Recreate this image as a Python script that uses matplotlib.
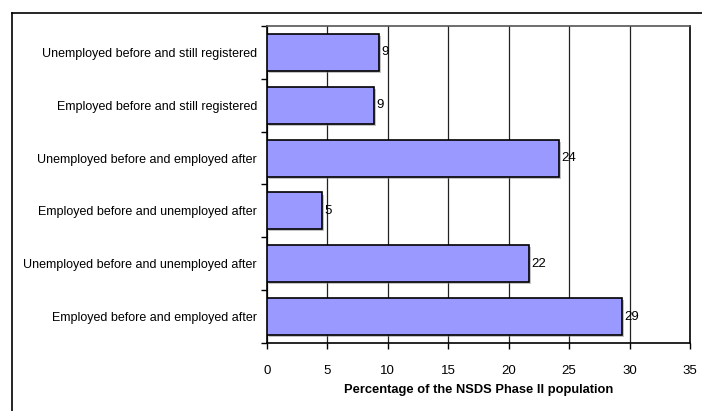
import matplotlib
matplotlib.use("Agg")
import matplotlib.pyplot as plt
import matplotlib.patheffects as pe
from matplotlib.lines import Line2D
import numpy as np

categories = [
    "Unemployed before and still registered",
    "Employed before and still registered",
    "Unemployed before and employed after",
    "Employed before and unemployed after",
    "Unemployed before and unemployed after",
    "Employed before and employed after",
]
values = [9.3, 8.9, 24.2, 4.6, 21.7, 29.4]
xticks = [0, 5, 10, 15, 20, 25, 30, 35]
xlabel = "Percentage of the NSDS Phase II population"

FONT = ["Liberation Sans", "DejaVu Sans"]
plt.rcParams["font.family"] = FONT

W, H = 702, 411
fig = plt.figure(figsize=(W / 100, H / 100), dpi=100)

# outer chart-area frame (left and top edges visible)
fig.add_artist(Line2D([12 / W, 12 / W], [0, 1 - 13 / H], transform=fig.transFigure,
                      color="black", lw=1.2))
fig.add_artist(Line2D([12 / W, 1], [1 - 13 / H, 1 - 13 / H], transform=fig.transFigure,
                      color="black", lw=1.2))

left, right = 266.7 / W, 690 / W
top, bottom = 1 - 26 / H, 1 - 343 / H
ax = fig.add_axes([left, bottom, right - left, top - bottom])

n = len(categories)
ypos = np.arange(n)[::-1]
bars = ax.barh(ypos, values, height=0.7, color="#9999FF", edgecolor="black",
               linewidth=1.2, zorder=3)
for b in bars:
    b.set_path_effects([pe.SimplePatchShadow(offset=(1.5, -1.5), shadow_rgbFace="#888888",
                                             alpha=0.5), pe.Normal()])

for y, v in zip(ypos, values):
    ax.text(v + 0.15, y, f"{v:.0f}", va="center", ha="left", fontsize=9.5, zorder=4)

ax.set_xlim(0, 35)
ax.set_ylim(-0.5, n - 0.5)
ax.set_xticks(xticks)
ax.set_xticklabels([str(t) for t in xticks], fontsize=9.5)
ax.xaxis.grid(True, color="#222222", lw=0.9, zorder=0)
ax.set_axisbelow(True)

ax.set_yticks(ypos)
ax.set_yticklabels(categories, fontsize=9)
ax.set_yticks(np.arange(n + 1) - 0.5, minor=True)
ax.tick_params(axis="y", which="major", length=0, pad=7)
ax.tick_params(axis="y", which="minor", length=4, width=1, direction="out")
ax.tick_params(axis="x", which="major", length=4, width=1, direction="out", pad=12)

ax.set_xlabel(xlabel, fontsize=9.3, fontweight="bold", labelpad=5)

for s in ["left", "bottom", "top", "right"]:
    ax.spines[s].set_linewidth(1.2)
ax.spines["top"].set_color("#555555")

fig.savefig("out.png", dpi=100)
